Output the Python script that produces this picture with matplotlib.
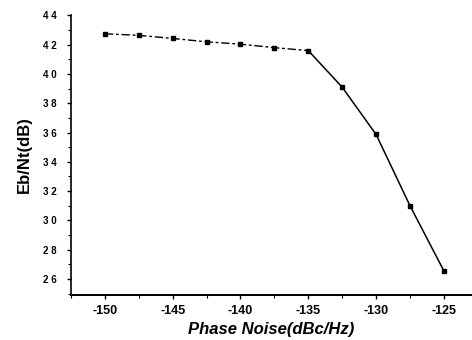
import matplotlib
matplotlib.use("Agg")
import matplotlib.pyplot as plt
from matplotlib.ticker import MultipleLocator

# Data
phase_noise = [-150, -147.5, -145, -142.5, -140, -137.5, -135, -132.5, -130, -127.5, -125]
ebnt = [42.75, 42.64, 42.43, 42.2, 42.04, 41.8, 41.6, 39.1, 35.87, 31.0, 26.55]
y_ticks = [26, 28, 30, 32, 34, 36, 38, 40, 42, 44]
x_ticks = [-150, -145, -140, -135, -130, -125]

plt.rcParams['font.family'] = ['Liberation Sans', 'DejaVu Sans']

fig = plt.figure(figsize=(4.72, 3.4), dpi=100)
ax = fig.add_axes([71 / 472, 45 / 340, 400 / 472, 281 / 340])

# flat part looks dashed in the scan, steep part solid
ax.plot(phase_noise[:7], ebnt[:7], color="black", linestyle=(0, (6, 2, 2, 2)), linewidth=1.0)
ax.plot(phase_noise[6:], ebnt[6:], color="black", linestyle="-", linewidth=1.1)
ax.plot(phase_noise, ebnt, linestyle="none", marker="s", markersize=3.5, color="black")

ax.set_xlim(-152.5, -123)
ax.set_ylim(24.9, 44.1)
ax.set_xticks(x_ticks)
ax.set_yticks(y_ticks)
ax.xaxis.set_minor_locator(MultipleLocator(2.5))
ax.yaxis.set_minor_locator(MultipleLocator(1))
ax.set_xticklabels([str(v) for v in x_ticks], fontsize=9, fontweight="bold")
ax.set_yticklabels([" ".join(str(v)) for v in y_ticks], fontsize=7, fontweight="bold")
ax.tick_params(which="major", direction="out", length=3, width=1)
ax.tick_params(axis="x", which="major", pad=4)
ax.tick_params(axis="y", which="major", pad=7)
ax.tick_params(which="minor", direction="out", length=2, width=0.8)

ax.spines["top"].set_visible(False)
ax.spines["right"].set_visible(False)
ax.spines["left"].set_linewidth(1.2)
ax.spines["bottom"].set_linewidth(1.4)
ax.spines["left"].set_bounds(24.9, 44)

ax.set_xlabel("Phase Noise(dBc/Hz)", fontsize=12, fontweight="bold", style="italic", labelpad=4)
ax.set_ylabel("Eb/Nt(dB)", fontsize=12, fontweight="bold", labelpad=8)

fig.savefig("out.png", dpi=100)
